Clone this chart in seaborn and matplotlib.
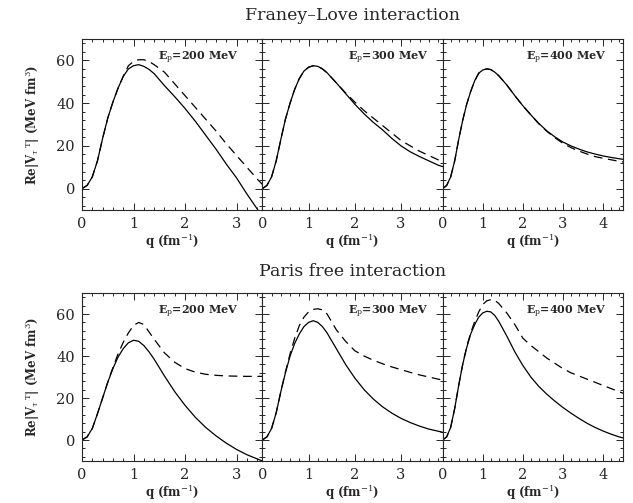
import numpy as np
import pandas as pd
import matplotlib
matplotlib.use("Agg")
import matplotlib.pyplot as plt
import seaborn as sns
from matplotlib.ticker import MultipleLocator

# q grids (fm^-1) for the three proton energies
q_200 = [0, 0.1, 0.2, 0.3, 0.4, 0.5, 0.6, 0.7, 0.8, 0.9, 1.0, 1.1, 1.2, 1.3, 1.4,
         1.6, 1.8, 2.0, 2.2, 2.4, 2.6, 2.8, 3.0, 3.2, 3.4, 3.5]
q_300 = [0, 0.1, 0.2, 0.3, 0.4, 0.5, 0.6, 0.7, 0.8, 0.9, 1.0, 1.1, 1.2, 1.3, 1.4,
         1.6, 1.8, 2.0, 2.2, 2.4, 2.6, 2.8, 3.0, 3.2, 3.4, 3.6, 3.8, 3.9]
q_400 = [0, 0.1, 0.2, 0.3, 0.4, 0.5, 0.6, 0.7, 0.8, 0.9, 1.0, 1.1, 1.2, 1.3, 1.4,
         1.6, 1.8, 2.0, 2.2, 2.4, 2.6, 2.8, 3.0, 3.2, 3.4, 3.6, 3.8, 4.0, 4.2, 4.4, 4.5]

# Franey-Love interaction
fl_200_solid = [0, 1.5, 5.5, 13, 23.5, 33, 40.5, 47, 52.5, 56, 57.5, 58, 57.2, 55.8, 53.8,
                48.2, 43, 37.5, 31.5, 25, 18.5, 11.5, 5, -2.5, -9.5, -13]
fl_200_dash = [0, 1.5, 5.5, 13, 23.5, 33, 40.5, 47, 52.5, 57.5, 59.5, 60.3, 60.3, 59.5, 58,
               54.5, 49, 43.5, 38, 32.5, 27, 21, 15.5, 10, 4.5, 2]
fl_300_solid = [0, 1.5, 5.5, 13, 23, 32.5, 40, 46.5, 51.5, 55, 56.8, 57.5, 57.2, 56, 54.2,
                49.5, 44.5, 39.5, 35, 31, 27.5, 23.5, 20, 17.2, 15, 13, 11, 10.3]
fl_300_dash = [0, 1.5, 5.5, 13, 23, 32.5, 40, 46.5, 51.5, 55, 56.8, 57.5, 57.2, 56, 54.2,
               49.5, 44.8, 40.5, 36.5, 33, 29.5, 26, 22.5, 20, 17.5, 15.5, 13.5, 12.8]
fl_400_solid = [0, 1.5, 5.5, 13, 23, 32, 39.5, 45.5, 50.5, 54, 55.5, 56, 55.7, 54.5, 52.8,
                48.5, 43.5, 38.8, 34.5, 30.5, 27, 24.2, 21.8, 20, 18.5, 17.2, 16.2, 15.3, 14.6, 14, 13.7]
fl_400_dash = [0, 1.5, 5.5, 13, 23, 32, 39.5, 45.5, 50.5, 54, 55.5, 56, 55.7, 54.5, 52.8,
               48.5, 43.5, 38.8, 34.5, 30.3, 26.8, 23.8, 21.2, 19.2, 17.6, 16.2, 15, 14.2, 13.5, 12.8, 12.5]

# Paris free interaction
pa_200_solid = [0, 1.5, 5.5, 12.5, 20, 27.5, 34, 39.5, 43.5, 46.3, 47.5, 47, 45, 42, 38.5,
                30.5, 23, 16.5, 10.8, 6, 2, -1.5, -4.5, -7, -9, -10]
pa_200_dash = [0, 1.5, 5.5, 12.5, 20, 27.5, 34.5, 41, 46.5, 51, 54.5, 56, 55, 51.5, 48,
               41.5, 37, 34, 32.3, 31.3, 30.8, 30.5, 30.4, 30.3, 30.3, 30.3]
pa_300_solid = [0, 1.5, 5.5, 13, 23, 32, 40, 46, 50.5, 54, 56, 56.8, 56, 54, 51,
                43.5, 36, 29.5, 24, 19.5, 15.8, 12.8, 10.3, 8.3, 6.6, 5.2, 4.2, 3.7]
pa_300_dash = [0, 1.5, 5.5, 13, 23, 32.5, 41, 48.5, 54.5, 58.5, 61, 62.2, 62.5, 62, 60,
               52.5, 47, 42.5, 40, 38, 36.3, 34.8, 33.5, 32.2, 31, 30, 29, 28.5]
pa_400_solid = [0, 1.5, 6, 15, 26, 36, 44, 50.5, 55, 58.5, 60.5, 61.3, 61, 59.3, 56.5,
                49.5, 42, 35.5, 30, 25.5, 21.8, 18.5, 15.5, 12.8, 10.3, 8, 6, 4.3, 2.8, 1.5, 1]
pa_400_dash = [0, 1.5, 6, 15, 26, 36, 44.5, 51, 56.5, 61, 64.5, 66.3, 66.8, 66.5, 65,
               60.5, 55, 48.5, 45, 42, 39, 36.5, 34, 32, 30.5, 29, 27.5, 26, 24.5, 23, 22.3]

energies = ["200", "300", "400"]
q_grids = [q_200, q_300, q_400]
q_max = [3.5, 3.9, 4.5]
rows = [
    ("Franey\u2013Love interaction",
     [(fl_200_solid, fl_200_dash), (fl_300_solid, fl_300_dash), (fl_400_solid, fl_400_dash)]),
    ("Paris free interaction",
     [(pa_200_solid, pa_200_dash), (pa_300_solid, pa_300_dash), (pa_400_solid, pa_400_dash)]),
]

sns.set_style("ticks")
plt.rcParams["font.family"] = ["DejaVu Serif"]
plt.rcParams["mathtext.fontset"] = "dejavuserif"

W, H = 633, 503
fig = plt.figure(figsize=(W / 100, H / 100), dpi=100)

# pixel boxes for each row: (top, bottom), panels share edges
row_box = [(39, 210), (293, 461)]
title_y = [15, 272]
left_px, right_px = 82, 623
panel_w = (right_px - left_px) / 3
label_right = [0.87, 0.92, 0.91]

for r, (title, curves) in enumerate(rows):
    top, bot = row_box[r]
    fig.text((left_px + right_px) / 2 / W, 1 - title_y[r] / H, title,
             ha="center", va="center", fontsize=12.5)
    for c in range(3):
        x0 = left_px + c * panel_w
        ax = fig.add_axes([x0 / W, 1 - bot / H, panel_w / W, (bot - top) / H])
        solid, dash = curves[c]
        df = pd.DataFrame({"q": q_grids[c], "solid": solid, "dash": dash})
        sns.lineplot(data=df, x="q", y="solid", ax=ax, color="black",
                     linewidth=0.9, estimator=None, sort=False)
        sns.lineplot(data=df, x="q", y="dash", ax=ax, color="black",
                     linewidth=0.9, estimator=None, sort=False, dashes=False,
                     linestyle=(0, (7, 4.5)))
        ax.set_xlim(0, q_max[c])
        ax.set_ylim(-10, 70)
        ax.xaxis.set_major_locator(MultipleLocator(1))
        ax.xaxis.set_minor_locator(MultipleLocator(0.2))
        ax.yaxis.set_major_locator(MultipleLocator(20))
        ax.yaxis.set_minor_locator(MultipleLocator(4))
        ax.tick_params(which="both", direction="in", top=True, right=True, width=0.7)
        ax.tick_params(which="major", length=5, labelsize=10.5, pad=5)
        ax.tick_params(which="minor", length=2.5)
        for s in ax.spines.values():
            s.set_linewidth(0.8)
        ax.set_xlabel(r"q (fm$^{-1}$)", fontsize=8.5, fontweight="bold", labelpad=1)
        if c == 0:
            ax.set_ylabel(r"Re|V$_\tau$$^{\,\rm T}$| (MeV fm$^3$)", fontsize=8.5,
                          fontweight="bold", labelpad=10)
        else:
            ax.set_ylabel("")
            ax.tick_params(labelleft=False)
        ax.text(label_right[c], 61, r"E$_{\rm p}$=" + energies[c] + " MeV",
                transform=ax.get_yaxis_transform(), ha="right", va="center",
                fontsize=8, fontweight="bold")

fig.savefig("out.png", dpi=100)
